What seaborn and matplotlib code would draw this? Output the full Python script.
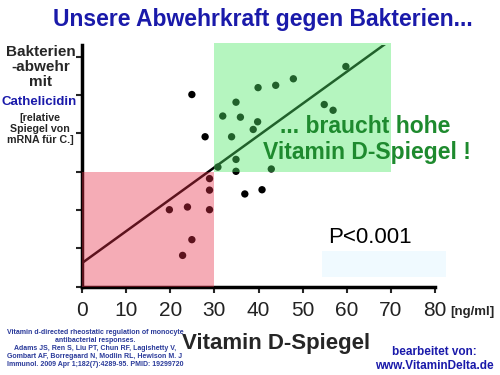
import matplotlib
matplotlib.use('Agg')
import matplotlib.pyplot as plt
import numpy as np
import pandas as pd
import seaborn as sns
from matplotlib.patches import Rectangle

# Vitamin D level [ng/ml] vs. relative cathelicidin mRNA
vitamin_d = [24.9, 27.9, 31.9, 34.9, 35.9, 33.9, 38.8, 39.8, 39.9, 43.9,
             47.9, 59.8, 54.9, 56.9, 34.9, 30.8, 34.9, 42.9, 40.8, 36.9,
             28.9, 28.9, 28.9, 23.9, 19.8, 24.9, 22.8]
cathelicidin = [5.01, 3.91, 4.45, 4.81, 4.42, 3.91, 4.10, 4.30, 5.19, 5.25,
                5.42, 5.74, 4.75, 4.60, 3.32, 3.12, 3.01, 3.07, 2.53, 2.42,
                2.82, 2.52, 2.01, 2.08, 2.01, 1.23, 0.82]
fit_x = [0, 69]
fit_y = [0.62, 6.35]
x_ticks = [0, 10, 20, 30, 40, 50, 60, 70, 80]
y_ticks = [0, 1, 2, 3, 4, 5, 6]
low_box = (0, 30, 0, 3)      # x0, x1, y0, y1
high_box = (30, 70, 3, 6.35)

df = pd.DataFrame({'vitd': vitamin_d, 'cath': cathelicidin})

sns.set_style('white')
plt.rcParams['font.family'] = ['Liberation Sans', 'DejaVu Sans']

fig = plt.figure(figsize=(5, 3.75), dpi=100)
ax = fig.add_axes([0.164, 0.235, 0.706, 0.645])

ax.plot(fit_x, fit_y, color='black', lw=1.8, zorder=2)
sns.scatterplot(data=df, x='vitd', y='cath', ax=ax, color='black',
                s=28, edgecolor='none', zorder=3)

# translucent boxes on top of the dots
ax.add_patch(Rectangle((low_box[0], low_box[2]), low_box[1] - low_box[0],
                       low_box[3] - low_box[2], facecolor='#e8304a',
                       alpha=0.4, lw=0, zorder=4))
ax.add_patch(Rectangle((high_box[0], high_box[2]), high_box[1] - high_box[0],
                       high_box[3] - high_box[2], facecolor='#50e868',
                       alpha=0.42, lw=0, zorder=4, clip_on=False))
ax.add_patch(Rectangle((54.5, 0.25), 28, 0.68, facecolor='#f0faff',
                       lw=0, zorder=1, clip_on=False))

ax.set_xlim(0, 80)
ax.set_ylim(0, 6.3)
ax.set_xticks(x_ticks)
ax.set_yticks(y_ticks)
ax.set_yticklabels([])
ax.set_xlabel('')
ax.set_ylabel('')
ax.tick_params(axis='x', labelsize=15, length=4, width=1.5, pad=6,
               labelcolor='#222222', bottom=True)
ax.tick_params(axis='y', length=4, width=1.5, left=True)
sns.despine(ax=ax)
for side in ['left', 'bottom']:
    ax.spines[side].set_linewidth(2.5)
    ax.spines[side].set_color('black')

ax.text(64.2, 4.18, '... braucht hohe', color='#1e8a2e', fontsize=16.5,
        fontweight='bold', ha='center', va='center', zorder=5)
ax.text(64.5, 3.5, 'Vitamin D-Spiegel !', color='#1e8a2e', fontsize=16.5,
        fontweight='bold', ha='center', va='center', zorder=5, clip_on=False)
ax.text(65.3, 1.28, 'P<0.001', color='black', fontsize=16,
        ha='center', va='center', zorder=5)

fig.text(0.525, 0.948, 'Unsere Abwehrkraft gegen Bakterien...', color='#1a1aaa',
         fontsize=16.5, fontweight='bold', ha='center', va='center')

fig.text(0.082, 0.88, 'Bakterien\n-abwehr\nmit', fontsize=11,
         fontweight='bold', ha='center', va='top', linespacing=1.08)
fig.text(0.078, 0.728, 'Cathelicidin', fontsize=9.5, color='#1a1aaa',
         fontweight='bold', ha='center', va='center')
fig.text(0.08, 0.698, '[relative\nSpiegel von\nmRNA für C.]', fontsize=7.7,
         fontweight='bold', ha='center', va='top', linespacing=1.1)

fig.text(0.9, 0.168, '[ng/ml]', fontsize=9.5, fontweight='bold',
         ha='left', va='center')
fig.text(0.552, 0.085, 'Vitamin D-Spiegel', fontsize=16, fontweight='bold',
         ha='center', va='center')

citation = ('Vitamin d-directed rheostatic regulation of monocyte\n'
            'antibacterial responses.\n'
            'Adams JS, Ren S, Liu PT, Chun RF, Lagishetty V,\n'
            'Gombart AF, Borregaard N, Modlin RL, Hewison M. J\n'
            'Immunol. 2009 Apr 1;182(7):4289-95. PMID: 19299720')
fig.text(0.19, 0.072, citation, fontsize=5, color='#2a3a9a',
         fontweight='bold', ha='center', va='center', linespacing=1.2)

fig.text(0.868, 0.043, 'bearbeitet von:\nwww.VitaminDelta.de', fontsize=8.5,
         color='#1a1aaa', fontweight='bold', ha='center', va='center',
         linespacing=1.25)

fig.savefig('out.png', dpi=100)
